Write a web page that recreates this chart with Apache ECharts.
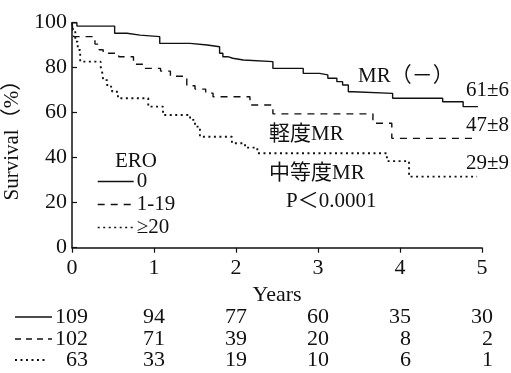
<!DOCTYPE html>
<html>
<head>
<meta charset="utf-8">
<title>Survival by ERO</title>
<script src="https://cdn.jsdelivr.net/npm/echarts@6/dist/echarts.min.js"></script>
<style>
html, body { margin: 0; padding: 0; background: #fff; }
#chart { width: 511px; height: 373px; }
</style>
</head>
<body>
<div id="chart"></div>
<script>
// Kaplan-Meier steps (years, survival %)
const noneYears = [0, 0.06, 0.52, 0.67, 0.83, 1.07, 1.44, 1.65, 1.80, 1.84, 1.90, 1.96, 2.09, 2.45, 2.82, 3.02, 3.12, 3.23, 3.30, 3.37, 3.43, 3.91, 4.52, 4.77, 4.95]
const noneSurv = [100, 98.5, 95.3, 94.5, 93.8, 90.8, 90.1, 89.3, 86.4, 84.9, 84.2, 83.4, 82.7, 79.7, 77.5, 76.8, 75.3, 73.8, 72.3, 69.3, 68.6, 66.4, 64.9, 62.7, 62.7]

const mildYears = [0, 0.02, 0.28, 0.33, 0.38, 0.57, 0.75, 0.88, 1.08, 1.20, 1.40, 1.50, 1.63, 1.72, 2.17, 2.45, 3.67, 3.90, 4.95]
const mildSurv = [100, 93.8, 90.5, 88, 86.4, 84.9, 81.5, 79.7, 78.5, 76.2, 72, 70.5, 68.7, 67.1, 63.4, 59.5, 55.3, 48.6, 48.6]

const modYears = [0, 0.01, 0.04, 0.07, 0.10, 0.35, 0.37, 0.38, 0.43, 0.49, 0.56, 0.93, 1.11, 1.44, 1.50, 1.56, 1.95, 2.11, 2.26, 3.84, 4.11, 4.94]
const modSurv = [100, 96.7, 91.6, 87.9, 82.7, 80.4, 77.6, 74.5, 71.6, 69.3, 66.4, 62.7, 59, 56.8, 53.8, 49.3, 46.4, 44.5, 42, 38.5, 31.6, 31.6]

// numbers at risk
const riskYears = [0, 1, 2, 3, 4, 5]
const riskNone = [109, 94, 77, 60, 35, 30]
const riskMild = [102, 71, 39, 20, 8, 2]
const riskMod = [63, 33, 19, 10, 6, 1]

const font = "'Liberation Serif', 'Noto Sans CJK JP', serif"
const ink = '#111'

function pairs(xs, ys) {
  return xs.map((x, i) => [x, ys[i]])
}

let chart = echarts.init(document.getElementById('chart'))

function lineSeries(name, xs, ys, type, width) {
  return {
    name: name,
    type: 'line',
    step: 'end',
    symbol: 'none',
    data: pairs(xs, ys),
    lineStyle: { color: ink, width: width, type: type, cap: 'butt' },
    itemStyle: { color: ink },
    animation: false
  }
}

function label(text, x, y, align) {
  return {
    type: 'text',
    x: x,
    y: y,
    style: {
      text: text,
      font: '21px ' + font,
      fill: ink,
      align: align || 'left',
      verticalAlign: 'middle'
    }
  }
}

let option = {
  backgroundColor: '#fff',
  animation: false,
  grid: { left: 72, right: 29, top: 22.7, bottom: 125.3, containLabel: false, outerBoundsMode: 'none' },
  xAxis: {
    type: 'value',
    min: 0,
    max: 5,
    interval: 1,
    name: 'Years',
    nameLocation: 'middle',
    nameGap: 34,
    nameTextStyle: { fontFamily: font, fontSize: 22, color: ink },
    axisLine: { lineStyle: { color: ink, width: 1.5 } },
    axisTick: { inside: false, length: 5, lineStyle: { color: ink, width: 1.2 } },
    axisLabel: { fontFamily: font, fontSize: 22, color: ink, margin: 10 },
    splitLine: { show: false }
  },
  yAxis: {
    type: 'value',
    min: 0,
    max: 100,
    interval: 20,
    name: 'Survival（%）',
    nameLocation: 'middle',
    nameGap: 43,
    nameRotate: 90,
    nameTextStyle: { fontFamily: font, fontSize: 21, color: ink },
    axisLine: { show: true, lineStyle: { color: ink, width: 1.5 } },
    axisTick: { show: true, inside: true, length: 5, lineStyle: { color: ink, width: 1.2 } },
    axisLabel: { fontFamily: font, fontSize: 22, color: ink, margin: 5 },
    splitLine: { show: false }
  },
  legend: {
    orient: 'vertical',
    left: 97,
    top: 171,
    padding: 0,
    itemGap: 2,
    itemWidth: 36,
    itemHeight: 12,
    itemStyle: { opacity: 0 },
    lineStyle: { width: 1.4 },
    textStyle: { fontFamily: font, fontSize: 21, color: ink, padding: [0, 0, 0, -2] },
    data: ['0', '1-19', '≥20']
  },
  series: [
    lineSeries('0', noneYears, noneSurv, 'solid', 1.4),
    lineSeries('1-19', mildYears, mildSurv, [7, 6], 1.4),
    lineSeries('≥20', modYears, modSurv, [2, 3.5], 1.9)
  ]
}
chart.setOption(option)

// annotations and the at-risk table under the axis
let g = [
  label('ERO', 115, 161),
  label('MR（－）', 358, 76),
  label('61±6', 509, 90, 'right'),
  label('47±8', 509, 125, 'right'),
  label('29±9', 509, 163, 'right'),
  label('軽度MR', 269, 134),
  label('中等度MR', 269, 173),
  label('P＜0.0001', 286, 201)
]

let rows = [riskNone, riskMild, riskMod]
let rowY = [317, 339, 360]
let keyDash = [null, [6, 5], [2, 3.5]]
rows.forEach((row, r) => {
  g.push({
    type: 'line',
    shape: { x1: 15, y1: rowY[r], x2: r === 2 ? 45 : 52, y2: rowY[r] },
    style: { stroke: ink, lineWidth: r === 2 ? 1.9 : 1.4, lineDash: keyDash[r] }
  })
  row.forEach((n, i) => {
    let px = chart.convertToPixel({ xAxisIndex: 0 }, riskYears[i])
    g.push({
      type: 'text',
      x: px + (i === 0 ? 16 : 11),
      y: rowY[r],
      style: {
        text: String(n),
        font: '22px ' + font,
        fill: ink,
        align: 'right',
        verticalAlign: 'middle'
      }
    })
  })
})

chart.setOption({ graphic: g })
</script>
</body>
</html>
